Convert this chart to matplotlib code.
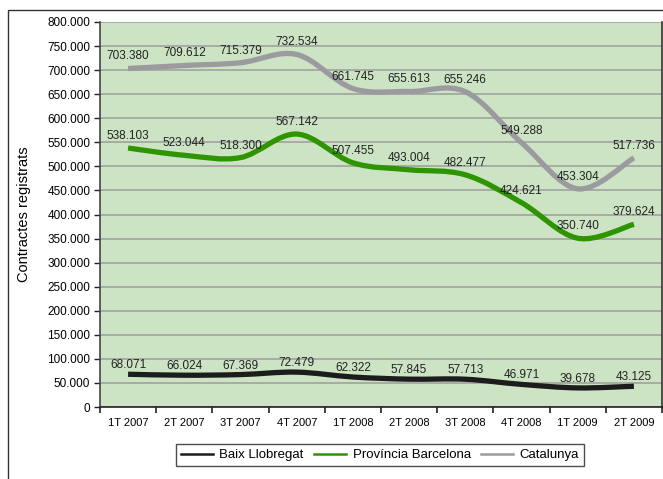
import matplotlib
matplotlib.use("Agg")
import matplotlib.pyplot as plt
from matplotlib.path import Path
from matplotlib.patches import PathPatch, Rectangle
from matplotlib.lines import Line2D
from matplotlib.ticker import MultipleLocator, FuncFormatter

plt.rcParams['font.family'] = ['Liberation Sans', 'DejaVu Sans']

quarters = ["1T 2007", "2T 2007", "3T 2007", "4T 2007", "1T 2008",
            "2T 2008", "3T 2008", "4T 2008", "1T 2009", "2T 2009"]
baix = [68071, 66024, 67369, 72479, 62322, 57845, 57713, 46971, 39678, 43125]
provincia = [538103, 523044, 518300, 567142, 507455, 493004, 482477, 424621, 350740, 379624]
catalunya = [703380, 709612, 715379, 732534, 661745, 655613, 655246, 549288, 453304, 517736]

series = [
    ("Baix Llobregat", baix, "#1c1c1c", 9),
    ("Província Barcelona", provincia, "#2e9400", 12),
    ("Catalunya", catalunya, "#9b9b9f", 12),
]


def fmt(v):
    return f"{int(v):,}".replace(",", ".")


def smooth_path(xs, ys):
    # excel-like smoothed line: cubic bezier through the points
    pts = list(zip(xs, ys))
    n = len(pts)
    verts = [pts[0]]
    codes = [Path.MOVETO]
    for i in range(n - 1):
        p0 = pts[i - 1] if i > 0 else pts[i]
        p1 = pts[i]
        p2 = pts[i + 1]
        p3 = pts[i + 2] if i + 2 < n else pts[i + 1]
        c1 = (p1[0] + (p2[0] - p0[0]) / 6, p1[1] + (p2[1] - p0[1]) / 6)
        c2 = (p2[0] - (p3[0] - p1[0]) / 6, p2[1] - (p3[1] - p1[1]) / 6)
        verts += [c1, c2, p2]
        codes += [Path.CURVE4] * 3
    return Path(verts, codes)


fig = plt.figure(figsize=(6.63, 4.79), dpi=100)
fig.patches.append(Rectangle((8 / 663, -0.1), 1.2, 1 - 10 / 479 + 0.1,
                             transform=fig.transFigure, fill=False,
                             edgecolor="#333333", lw=1.0))

ax = fig.add_axes([100 / 663, 1 - 407 / 479, 562 / 663, 385 / 479])
ax.set_facecolor("#cce4c4")

x = list(range(len(quarters)))
handles = []
for name, vals, col, off in series:
    patch = PathPatch(smooth_path(x, vals), facecolor="none", edgecolor=col,
                      lw=3.8, capstyle="butt", joinstyle="round", zorder=3)
    ax.add_patch(patch)
    for xi, v in zip(x, vals):
        ax.annotate(fmt(v), (xi, v), xytext=(0, off), textcoords="offset pixels",
                    ha="center", va="center", fontsize=8.5, color="#222222", zorder=4)
    handles.append(Line2D([], [], color=col, lw=1.8))

ax.set_xlim(-0.5, len(quarters) - 0.5)
ax.set_ylim(0, 800000)
ax.yaxis.set_major_locator(MultipleLocator(50000))
ax.yaxis.set_major_formatter(FuncFormatter(lambda v, p: fmt(v)))
ax.set_xticks(x)
ax.set_xticklabels(quarters)
ax.set_xticks([i + 0.5 for i in range(-1, len(quarters))], minor=True)
ax.tick_params(axis="x", which="major", length=0, pad=8, labelsize=8)
ax.tick_params(axis="x", which="minor", length=4, width=1.2, color="#222222", direction="out")
ax.tick_params(axis="y", length=4, width=1, color="#222222", labelsize=8.5, pad=3)
ax.grid(axis="y", color="#a4a8a2", lw=1.3, zorder=1)
ax.set_axisbelow(True)

ax.spines["top"].set_visible(False)
ax.spines["left"].set_color("#444444")
ax.spines["bottom"].set_color("#222222")
ax.spines["right"].set_color("#333333")
for s in ("left", "bottom", "right"):
    ax.spines[s].set_linewidth(1.2)

ax.set_ylabel("Contractes registrats", fontsize=10.5, labelpad=12)

leg = fig.legend(handles, [s[0] for s in series], loc="center",
                 bbox_to_anchor=(380 / 663, 1 - 455 / 479), ncol=3,
                 frameon=True, fancybox=False, fontsize=9.5,
                 handlelength=2.4, columnspacing=0.8, handletextpad=0.5,
                 borderpad=0.35)
leg.get_frame().set_edgecolor("#222222")
leg.get_frame().set_linewidth(1.0)

fig.savefig("out.png", dpi=100)
